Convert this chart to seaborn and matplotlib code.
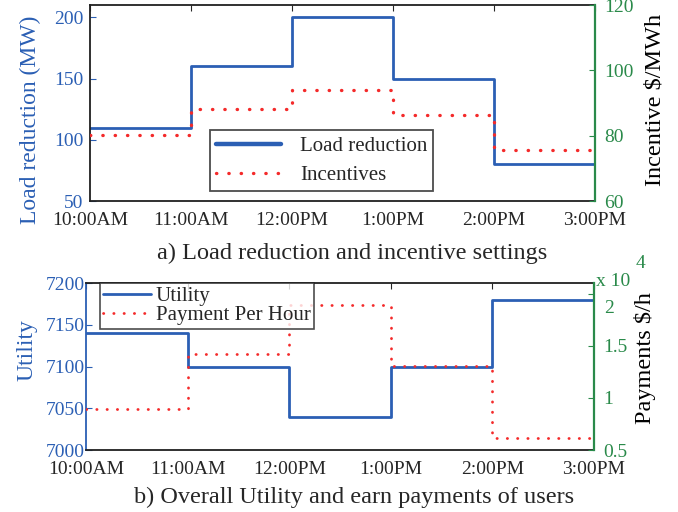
import matplotlib
matplotlib.use("Agg")
import matplotlib.pyplot as plt
import matplotlib.transforms as mtransforms
import seaborn as sns

hours = [10, 11, 12, 13, 14, 15]
hour_labels = ["10:00AM", "11:00AM", "12:00PM", "1:00PM", "2:00PM", "3:00PM"]

# panel a
load_reduction = [110, 160, 200, 150, 80]
incentives = [80.3, 88.2, 93.9, 86.4, 75.6]

# panel b
utility = [7140, 7100, 7040, 7100, 7180]
payments = [0.89, 1.425, 1.895, 1.31, 0.62]  # x 10^4 $/h

BLUE = "#2b5fb4"
RED = "#f42a2a"
GREEN = "#2a8a4a"

sns.set_style("white")
plt.rcParams["font.family"] = ["Liberation Serif", "DejaVu Serif"]

dot_style = (0, (0.1, 3.6))


def steps(v):
    return list(v) + [v[-1]]


def style_axes(ax, ax2, left_color, right_color, left_spine, lpad, rpad):
    ax.set_xlim(10, 15)
    ax.set_xticks(hours)
    ax.set_xticklabels(hour_labels)
    ax.tick_params(axis="x", direction="in", top=True, labelsize=14, length=4, pad=8)
    ax.tick_params(axis="y", direction="in", colors=left_color, labelsize=14, length=4, pad=lpad)
    ax2.tick_params(axis="y", direction="in", colors=right_color, labelsize=14, length=4, pad=rpad)
    for s in ["top", "bottom"]:
        ax.spines[s].set_color("#202020")
    ax.spines["left"].set_color(left_spine)
    ax2.spines["right"].set_color(right_color)
    ax2.spines["right"].set_linewidth(1.6)
    ax2.spines["left"].set_visible(False)
    ax2.spines["top"].set_visible(False)
    ax2.spines["bottom"].set_visible(False)
    for s in ax.spines.values():
        s.set_linewidth(1.3)
    ax.set_xlabel("")
    ax2.set_xlabel("")


def place_label(axis, x, y):
    axis.label.set_va("center")
    axis.label.set_ha("center")
    axis.set_label_coords(x, y)


fig = plt.figure(figsize=(6.78, 5.12), dpi=100)
ax_a = fig.add_axes([0.133, 0.607, 0.744, 0.383])
ax_b = fig.add_axes([0.127, 0.121, 0.749, 0.326])

# ---- panel a
ax_a2 = ax_a.twinx()
sns.lineplot(x=hours, y=steps(load_reduction), ax=ax_a, drawstyle="steps-post",
             color=BLUE, lw=2.0, label="Load reduction", legend=False)
sns.lineplot(x=hours, y=steps(incentives), ax=ax_a2, drawstyle="steps-post",
             color=RED, lw=2.4, linestyle=dot_style, dash_capstyle="round",
             label="Incentives", legend=False)
ax_a.set_ylim(50, 210)
ax_a.set_yticks([50, 100, 150, 200])
ax_a2.set_ylim(60, 120)
ax_a2.set_yticks([60, 80, 100, 120])
style_axes(ax_a, ax_a2, BLUE, GREEN, "#202020", 5, 7)
ax_a.set_ylabel("Load reduction (MW)", color=BLUE, fontsize=17)
ax_a2.set_ylabel(r"Incentive \$/MWh", color="black", fontsize=17.5)
place_label(ax_a.yaxis, -0.119, 0.413)
place_label(ax_a2.yaxis, 1.119, 0.515)

h1, l1 = ax_a.get_legend_handles_labels()
h2, l2 = ax_a2.get_legend_handles_labels()
leg = ax_a2.legend(h1 + h2, l1 + l2, loc="lower left", bbox_to_anchor=(0.238, 0.051),
                   fontsize=15, frameon=True, fancybox=False, handlelength=3.1,
                   borderpad=0.3, labelspacing=0.45, handletextpad=0.9,
                   borderaxespad=0)
leg.get_frame().set_edgecolor("#202020")
leg.get_frame().set_linewidth(1.3)
leg.get_lines()[0].set_linewidth(3.2)

# ---- panel b
ax_b2 = ax_b.twinx()
sns.lineplot(x=hours, y=steps(utility), ax=ax_b, drawstyle="steps-post",
             color=BLUE, lw=2.0, label="Utility", legend=False)
sns.lineplot(x=hours, y=steps(payments), ax=ax_b2, drawstyle="steps-post",
             color=RED, lw=2.0, linestyle=dot_style, dash_capstyle="round",
             label="Payment Per Hour", legend=False)
ax_b.set_ylim(7000, 7200)
ax_b.set_yticks([7000, 7050, 7100, 7150, 7200])
ax_b2.set_ylim(0.5, 2.1)
ax_b2.set_yticks([0.5, 1, 1.5, 2])
ax_b2.set_yticklabels(["0.5", "1", "1.5", "2"])
style_axes(ax_b, ax_b2, BLUE, GREEN, BLUE, 1, 7)
ax_b.set_ylabel("Utility", color=BLUE, fontsize=17)
ax_b2.set_ylabel(r"Payments \$/h", color="black", fontsize=17.5)
place_label(ax_b.yaxis, -0.116, 0.599)
place_label(ax_b2.yaxis, 1.100, 0.554)
ax_b2.text(1.005, 1.01, "x 10", transform=ax_b2.transAxes, color=GREEN,
           fontsize=14, ha="left", va="center")
ax_b2.text(1.082, 1.115, "4", transform=ax_b2.transAxes, color=GREEN,
           fontsize=14, ha="left", va="center")

# nudge the top "2" label below the exponent text, like the original
fig.canvas.draw()
lab2 = ax_b2.get_yticklabels()[-1]
lab2.set_transform(lab2.get_transform() +
                   mtransforms.ScaledTranslation(0, -9 / 72, fig.dpi_scale_trans))

h1, l1 = ax_b.get_legend_handles_labels()
h2, l2 = ax_b2.get_legend_handles_labels()
leg = ax_b2.legend(h1 + h2, l1 + l2, loc="upper left", bbox_to_anchor=(0.028, 1.0),
                   fontsize=15, frameon=True, fancybox=False, handlelength=2.3,
                   borderpad=0.15, labelspacing=0.0, handletextpad=0.2,
                   borderaxespad=0)
leg.get_frame().set_edgecolor("#202020")
leg.get_frame().set_linewidth(1.2)

# captions
fig.text(0.52, 0.506, "a) Load reduction and incentive settings", ha="center",
         va="center", fontsize=17.5)
fig.text(0.522, 0.029, "b) Overall Utility and earn payments of users", ha="center",
         va="center", fontsize=17.5)

fig.savefig("out.png", dpi=100)
